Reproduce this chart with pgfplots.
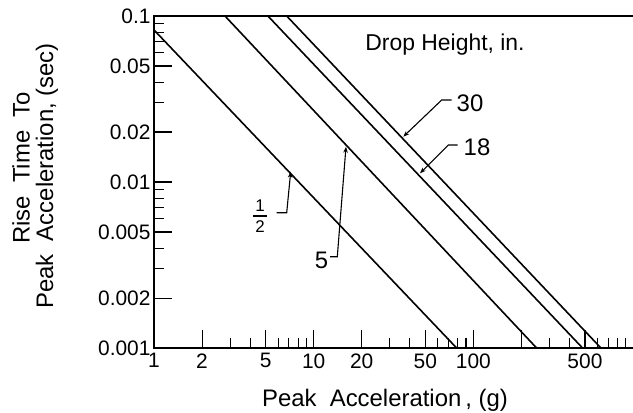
\documentclass[border=0pt]{standalone}
\usepackage{pgfplots}
\pgfplotsset{compat=1.18}
\usepackage{fontspec}
\setmainfont{Liberation Sans}
\usetikzlibrary{arrows.meta}
\begin{document}
\begin{tikzpicture}
\begin{axis}[name=ax, xmode=log, ymode=log, scale only axis,
  width=479bp, height=332bp,
  xmin=1, xmax=1000, ymin=0.001, ymax=0.1,
  axis line style={draw=none},
  xtick={1,2,5,10,20,50,100,200,500},
  xticklabels={1,2,5,10,20,50,100,,500},
  minor xtick={3,4,6,7,8,9,30,40,60,70,80,90,300,400,600,700,800,900},
  ytick={0.001,0.002,0.005,0.01,0.02,0.05,0.1},
  yticklabels={0.001,0.002,0.005,0.01,0.02,0.05,0.1},
  minor ytick={0.003,0.004,0.006,0.007,0.008,0.009,0.03,0.04,0.06,0.07,0.08,0.09},
  xtick pos=bottom, ytick pos=left, tick align=inside,
  major tick length=18bp, minor tick length=10bp,
  every tick/.style={black, line width=1.1bp},
  tick label style={font=\fontsize{21}{21}\selectfont},
  xticklabel style={yshift=-2bp},
  clip=false,
]
\addplot[black, line width=1.6bp] coordinates {(1,0.0824) (78.6,0.001)};
\addplot[black, line width=1.6bp] coordinates {(2.784,0.1) (249,0.001)};
\addplot[black, line width=1.6bp] coordinates {(5.17,0.1) (483,0.001)};
\addplot[black, line width=1.6bp] coordinates {(6.78,0.1) (629.6,0.001)};
\end{axis}
\begin{scope}[shift={([xshift=-154bp,yshift=348bp]ax.south west)}, x=1bp, y=-1bp]
\draw[line width=1.7bp] (633,16) -- (154,16) -- (154,348) -- (633,348);
\node[font=\fontsize{23}{23}\selectfont] at (445,45) {Drop Height, in.};
\node[font=\fontsize{24}{24}\selectfont] at (470,103) {30};
\node[font=\fontsize{24}{24}\selectfont] at (477,147) {18};
\node[font=\fontsize{24}{24}\selectfont] at (321.5,260) {5};
\node[font=\fontsize{17}{17}\selectfont] at (260,206) {1};
\node[font=\fontsize{17}{17}\selectfont] at (260,227) {2};
\draw[line width=1.3bp] (253,216) -- (267,216);
\draw[line width=1.1bp, -{Stealth[length=6bp,width=4.5bp]}] (451.7,100) -- (441.7,100) -- (403.3,136.7);
\draw[line width=1.1bp, -{Stealth[length=6bp,width=4.5bp]}] (457.7,145) -- (448.3,145) -- (420,173.3);
\draw[line width=1.1bp, -{Stealth[length=6bp,width=4.5bp]}] (276.7,212.7) -- (286.7,212.7) -- (290.7,171.7);
\draw[line width=1.1bp, -{Stealth[length=6bp,width=4.5bp]}] (330,256.7) -- (337.3,256.7) -- (346,146.7);
\node[font=\fontsize{24}{24}\selectfont, anchor=base] at (385,406) {Peak\ \ Acceleration\,, (g)};
\node[font=\fontsize{24}{24}\selectfont, rotate=90] at (21,168) {Rise\ \ Time\ \ To};
\node[font=\fontsize{24}{24}\selectfont, rotate=90] at (47,176) {Peak\ \ Acceleration, (sec)};
\pgfresetboundingbox
\path[use as bounding box] (0,0) rectangle (633,412);
\end{scope}
\end{tikzpicture}
\end{document}
